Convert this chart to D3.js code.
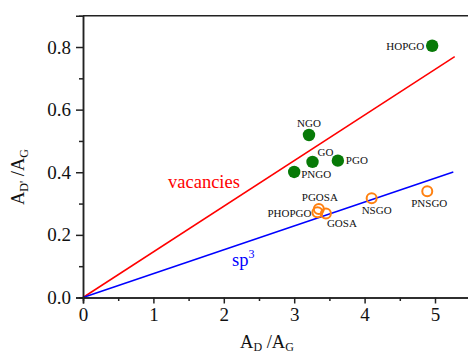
<!DOCTYPE html>
<html>
<head>
<meta charset="utf-8">
<script src="https://cdn.jsdelivr.net/npm/d3@7"></script>
<style>
  body { margin: 0; background: #fff; }
  svg { display: block; font-family: "Liberation Serif", "DejaVu Serif", serif; }
</style>
</head>
<body>
<svg id="chart"></svg>
<script>
// data
let greenNames = ['HOPGO', 'NGO', 'GO', 'PGO', 'PNGO'];
let greenX = [4.96, 3.21, 3.26, 3.62, 3.00];
let greenY = [0.804, 0.519, 0.433, 0.437, 0.401];

let orangeNames = ['PGOSA', 'PHOPGO', 'GOSA', 'NSGO', 'PNSGO'];
let orangeX = [3.35, 3.33, 3.45, 4.10, 4.89];
let orangeY = [0.283, 0.272, 0.268, 0.317, 0.339];

// straight fits through the origin (end points)
let vacanciesLine = [[0, 0], [5.28, 0.769]];
let sp3Line = [[0, 0], [5.26, 0.401]];

let xTicks = [0, 1, 2, 3, 4, 5];
let yTicks = [0.0, 0.2, 0.4, 0.6, 0.8];

let width = 468;
let height = 355;

// label placement [dx, dy, anchor]
let greenLabelPos = [[-8, 4, 'end'], [0, -8, 'middle'], [5, -6, 'start'], [8, 3, 'start'], [7, 6, 'start']];
let orangeLabelPos = [[1, -8, 'middle'], [-6, 5, 'end'], [1, 13, 'start'], [5, 16, 'middle'], [2, 16, 'middle']];

let svg = d3.select('#chart').attr('width', width).attr('height', height);

let xScale = d3.scaleLinear().domain([0, 5.5]).range([83, 470.2]);
let yScale = d3.scaleLinear().domain([0, 0.9]).range([297.5, 15.7]);

let drawAxes = () => {
    let xAxis = d3.axisBottom(xScale).tickValues(xTicks).tickFormat(d3.format('d'))
                  .tickSize(6).tickPadding(4);
    let xMinor = d3.axisBottom(xScale).tickValues([0.5, 1.5, 2.5, 3.5, 4.5]).tickSize(3.5).tickFormat('');
    let yAxis = d3.axisLeft(yScale).tickValues(yTicks).tickFormat(d3.format('.1f'))
                  .tickSize(7).tickPadding(5);
    let yMinor = d3.axisLeft(yScale).tickValues([0.1, 0.3, 0.5, 0.7]).tickSize(4).tickFormat('');

    [xAxis, xMinor].forEach(a => {
        svg.append('g').attr('class', 'axis')
           .attr('transform', 'translate(0,' + yScale(0) + ')').call(a);
    });
    [yAxis, yMinor].forEach(a => {
        svg.append('g').attr('class', 'axis')
           .attr('transform', 'translate(' + xScale(0) + ',0)').call(a);
    });
    svg.selectAll('.axis path').attr('stroke', '#222').attr('stroke-width', 1.5);
    svg.selectAll('.axis line').attr('stroke', '#222').attr('stroke-width', 1.5);
    svg.selectAll('.axis text').attr('fill', '#111').style('font-size', '19px')
       .style('font-family', '"Liberation Serif", serif');

    // top frame
    svg.append('line')
       .attr('x1', xScale(0)).attr('x2', width)
       .attr('y1', yScale(0.9)).attr('y2', yScale(0.9))
       .attr('stroke', '#222').attr('stroke-width', 1.5);

    // axis titles
    let xt = svg.append('text').attr('x', 240).attr('y', 348)
                .style('font-size', '18.5px').attr('fill', '#111');
    xt.append('tspan').text('A');
    xt.append('tspan').text('D').style('font-size', '12px').attr('dy', 3);
    xt.append('tspan').text(' /A').attr('dy', -3);
    xt.append('tspan').text('G').style('font-size', '12px').attr('dy', 3);

    let yt = svg.append('text').attr('transform', 'translate(24,205) rotate(-90)')
                .style('font-size', '18.5px').attr('fill', '#111');
    yt.append('tspan').text('A');
    yt.append('tspan').text("D'").style('font-size', '12px').attr('dy', 4);
    yt.append('tspan').text(' /A').attr('dy', -4);
    yt.append('tspan').text('G').style('font-size', '12px').attr('dy', 4);
}

let drawLines = () => {
    let line = d3.line().x(d => xScale(d[0])).y(d => yScale(d[1]));
    svg.append('path').datum(vacanciesLine).attr('d', line)
       .attr('fill', 'none').attr('stroke', '#ff0000').attr('stroke-width', 1.5);
    svg.append('path').datum(sp3Line).attr('d', line)
       .attr('fill', 'none').attr('stroke', '#0000ff').attr('stroke-width', 1.5);

    svg.append('text').attr('x', 168).attr('y', 188).text('vacancies')
       .attr('fill', '#ff0000').style('font-size', '18.5px');
    let sp = svg.append('text').attr('x', 232).attr('y', 266)
                .attr('fill', '#0000ff').style('font-size', '18.5px');
    sp.append('tspan').text('sp');
    sp.append('tspan').text('3').style('font-size', '12px').attr('dy', -8);
}

let drawPoints = () => {
    let green = greenNames.map((n, i) => ({name: n, x: greenX[i], y: greenY[i], pos: greenLabelPos[i]}));
    let orange = orangeNames.map((n, i) => ({name: n, x: orangeX[i], y: orangeY[i], pos: orangeLabelPos[i]}));

    svg.selectAll('circle.green').data(green).enter().append('circle')
       .attr('class', 'green')
       .attr('cx', d => xScale(d.x)).attr('cy', d => yScale(d.y))
       .attr('r', 6.2).attr('fill', '#077a07');

    svg.selectAll('circle.orange').data(orange).enter().append('circle')
       .attr('class', 'orange')
       .attr('cx', d => xScale(d.x)).attr('cy', d => yScale(d.y))
       .attr('r', 5).attr('fill', 'none').attr('stroke', '#ff8010').attr('stroke-width', 2);

    svg.selectAll('text.lbl').data(green.concat(orange)).enter().append('text')
       .attr('class', 'lbl')
       .attr('x', d => xScale(d.x) + d.pos[0])
       .attr('y', d => yScale(d.y) + d.pos[1])
       .attr('text-anchor', d => d.pos[2])
       .style('font-size', '11px').attr('fill', '#111')
       .text(d => d.name);
}

drawLines();
drawAxes();
drawPoints();
</script>
</body>
</html>
